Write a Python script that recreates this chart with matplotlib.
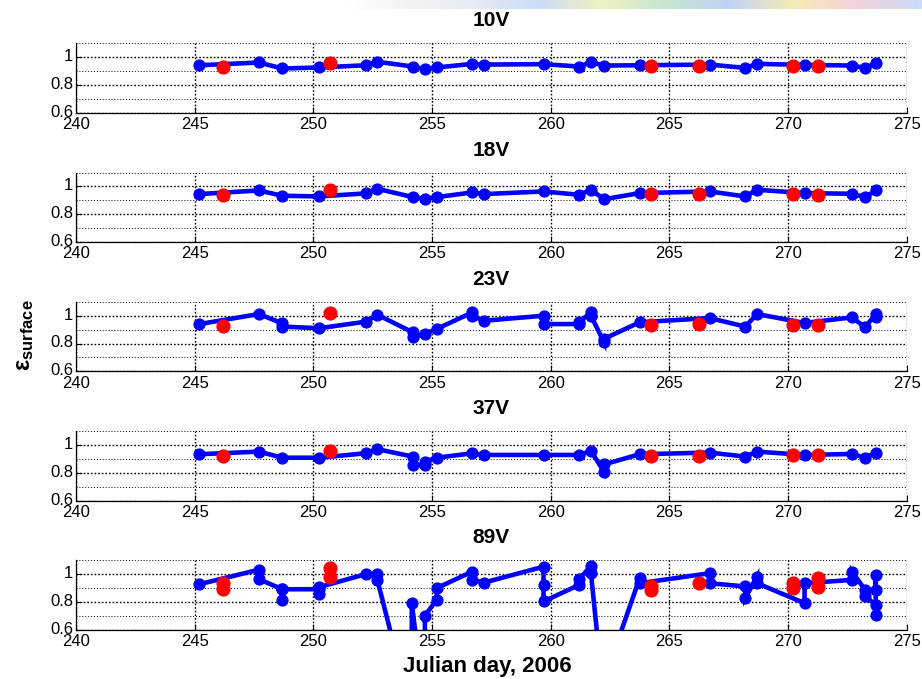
import numpy as np
import matplotlib
matplotlib.use('Agg')
import matplotlib.pyplot as plt
from matplotlib.colors import LinearSegmentedColormap
from matplotlib.transforms import ScaledTranslation

plt.rcParams['font.family'] = ['Liberation Sans', 'DejaVu Sans']
plt.rcParams['mathtext.fontset'] = 'custom'
plt.rcParams['mathtext.rm'] = 'Liberation Sans'
plt.rcParams['mathtext.bf'] = 'Liberation Sans:bold'
plt.rcParams['mathtext.it'] = 'Liberation Sans:italic'

# ---- data ----
channels = ['10V', '18V', '23V', '37V', '89V']

days_common = [245.2, 247.7, 248.7, 250.25, 252.2, 252.7, 254.2, 254.7, 255.2, 256.7,
               257.2, 259.7, 261.2, 261.7, 262.25, 263.75, 266.7, 268.2, 268.7, 270.7,
               272.7, 273.25, 273.7]
vals_10v = [0.94, 0.96, 0.917, 0.924, 0.94, 0.965, 0.931, 0.912, 0.924, 0.95,
            0.945, 0.948, 0.931, 0.962, 0.938, 0.94, 0.945, 0.921, 0.95, 0.943,
            0.938, 0.921, 0.955]
vals_18v = [0.945, 0.971, 0.933, 0.928, 0.95, 0.983, 0.923, 0.911, 0.923, 0.957,
            0.945, 0.964, 0.94, 0.976, 0.908, 0.952, 0.964, 0.928, 0.976, 0.952,
            0.947, 0.923, 0.971]

days_23v = [245.2, 247.7, 248.7, 248.7, 250.25, 252.2, 252.7, 254.2, 254.2, 254.7,
            255.2, 256.7, 256.7, 257.2, 259.7, 259.7, 261.2, 261.2, 261.7, 261.7,
            262.25, 262.25, 263.75, 266.7, 268.2, 268.7, 270.7, 272.7, 273.25, 273.7,
            273.7]
vals_23v = [0.94, 1.012, 0.945, 0.922, 0.91, 0.957, 1.007, 0.88, 0.846, 0.87,
            0.905, 1.024, 1.0, 0.964, 1.0, 0.94, 0.94, 0.953, 1.024, 1.0,
            0.81, 0.834, 0.953, 0.983, 0.922, 1.012, 0.948, 0.988, 0.917, 1.012,
            0.988]

days_37v = [245.2, 247.7, 248.7, 250.25, 252.2, 252.7, 254.2, 254.2, 254.7, 254.7,
            255.2, 256.7, 257.2, 259.7, 261.2, 261.7, 262.25, 262.25, 263.75, 266.7,
            268.2, 268.7, 270.7, 272.7, 273.25, 273.7]
vals_37v = [0.933, 0.952, 0.908, 0.908, 0.94, 0.969, 0.916, 0.855, 0.855, 0.88,
            0.908, 0.94, 0.928, 0.928, 0.928, 0.957, 0.807, 0.86, 0.933, 0.945,
            0.916, 0.952, 0.928, 0.935, 0.908, 0.945]

days_89v = [245.2, 247.7, 247.7, 248.7, 248.7, 248.7, 250.25, 250.25, 250.25, 252.2,
            252.7, 252.7, 254.15, 254.15, 254.5, 254.7, 254.7, 255.2, 255.2, 256.7,
            256.7, 257.2, 259.7, 259.7, 259.7, 261.2, 261.2, 261.7, 261.7, 262.18,
            263.75, 263.75, 266.7, 266.7, 268.2, 268.2, 268.7, 268.7, 270.7, 270.7,
            272.7, 272.7, 273.25, 273.25, 273.7, 273.7, 273.7, 273.7]
vals_89v = [0.926, 1.03, 0.962, 0.89, 0.814, 0.89, 0.89, 0.855, 0.905, 0.998,
            0.998, 0.957, -0.02, 0.79, 0.3, 0.3, 0.70, 0.814, 0.898, 1.017,
            0.957, 0.938, 1.052, 0.921, 0.802, 0.921, 0.962, 1.057, 1.005, 0.2,
            0.969, 0.933, 1.005, 0.933, 0.91, 0.826, 0.981, 0.933, 0.79, 0.933,
            0.957, 1.017, 0.886, 0.838, 0.779, 0.707, 0.993, 0.886]

red_days = [246.2, 250.7, 264.25, 266.25, 270.2, 271.25]
red_10v = [0.931, 0.955, 0.936, 0.936, 0.936, 0.936]
red_18v = [0.94, 0.971, 0.945, 0.945, 0.945, 0.937]
red_23v = [0.924, 1.017, 0.934, 0.94, 0.934, 0.934]
red_37v = [0.923, 0.957, 0.92, 0.923, 0.928, 0.925]
red_days_89v = [246.2, 246.2, 250.7, 250.7, 264.25, 264.25, 266.25, 270.2, 270.2,
                271.25, 271.25]
red_89v = [0.933, 0.893, 1.04, 0.98, 0.91, 0.888, 0.933, 0.938, 0.898, 0.969, 0.905]

blue_sets = [(days_common, vals_10v), (days_common, vals_18v), (days_23v, vals_23v),
             (days_37v, vals_37v), (days_89v, vals_89v)]
red_sets = [(red_days, red_10v), (red_days, red_18v), (red_days, red_23v),
            (red_days, red_37v), (red_days_89v, red_89v)]

xticks = [240, 245, 250, 255, 260, 265, 270, 275]
yticks = [0.6, 0.8, 1.0]
ytick_labels = ['0.6', '0.8', '1']

# ---- figure ----
W, H = 922, 679
fig = plt.figure(figsize=(W / 100, H / 100), dpi=100)

# faint coloured strip at the very top (part of the source image)
strip_cols = [(1, 1, 1), (0.95, 0.95, 0.96), (0.90, 0.92, 0.96), (0.80, 0.86, 0.96),
              (0.93, 0.95, 0.75), (0.78, 0.90, 0.82), (0.75, 0.82, 0.96),
              (0.96, 0.93, 0.70), (0.95, 0.82, 0.86), (0.80, 0.86, 0.97)]
cmap = LinearSegmentedColormap.from_list('strip', strip_cols)
sax = fig.add_axes([345 / W, 1 - 9 / H, (W - 345) / W, 9 / H])
sax.imshow(np.linspace(0, 1, 200)[None, :], aspect='auto', cmap=cmap,
           interpolation='bicubic')
sax.axis('off')

left = 76 / W
width = 830.6 / W
tops = [43, 172.5, 301.8, 431, 560]
ah = 69.6
lift = ScaledTranslation(0, 1.5 / 72, fig.dpi_scale_trans)

for i, ch in enumerate(channels):
    ax = fig.add_axes([left, 1 - (tops[i] + ah) / H, width, ah / H])
    bd, bv = blue_sets[i]
    rd, rv = red_sets[i]
    ax.plot(bd, bv, '-o', color='blue', lw=3.3, ms=7.8, mec='blue', mfc='blue',
            solid_joinstyle='miter', zorder=3)
    ax.plot(rd, rv, 'o', color='red', ms=9.2, mec='red', zorder=4)

    ax.set_xlim(240, 275)
    ax.set_ylim(0.6, 1.1)
    ax.set_xticks(xticks)
    ax.set_xticklabels([str(t) for t in xticks])
    ax.set_yticks(yticks)
    ax.set_yticklabels(ytick_labels)
    ax.set_yticks([0.7, 0.9, 1.1], minor=True)
    ax.tick_params(direction='in', length=4, width=0.8, labelsize=12, pad=2)
    ax.tick_params(axis='x', pad=3)
    ax.tick_params(which='minor', length=0)
    for lab in ax.get_yticklabels():
        lab.set_transform(lab.get_transform() + lift)

    ax.grid(True, which='major', color='black', linestyle=(0, (1.2, 1.4)), lw=1.0)
    ax.grid(True, which='minor', axis='y', color='black', linestyle=(0, (1, 2)), lw=0.7)
    ax.set_axisbelow(True)
    ax.spines['top'].set_visible(False)
    ax.spines['right'].set_visible(False)
    for s in ('left', 'bottom'):
        ax.spines[s].set_linewidth(0.9)

    ax.set_title(ch, fontsize=15, fontweight='bold', pad=12)

fig.text(487 / W, 1 - 672 / H, 'Julian day, 2006', ha='center', va='baseline',
         fontsize=16, fontweight='bold')
fig.text(24 / W, 1 - 335 / H, r'ε$_{\mathbf{surface}}$', rotation=90,
         ha='center', va='center', fontsize=17, fontweight='bold')

fig.savefig('out.png', dpi=100)
